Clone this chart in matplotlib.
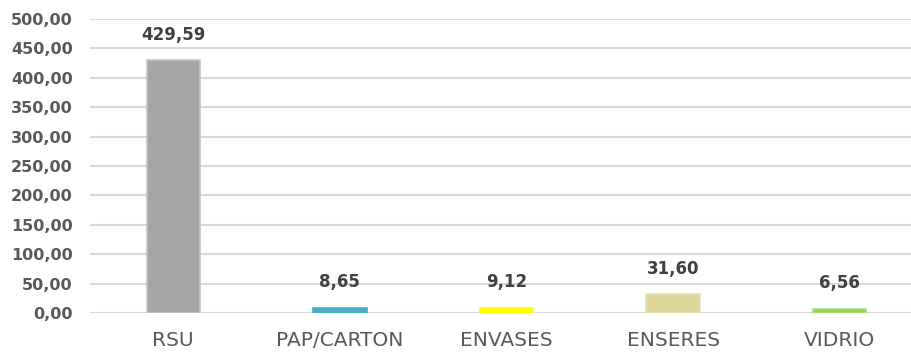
"""
Bar chart of collected waste by type.
"""
from matplotlib import pyplot as plt
import numpy as np

categories = ['RSU', 'PAP/CARTON', 'ENVASES', 'ENSERES', 'VIDRIO']
values = [429.59, 8.65, 9.12, 31.60, 6.56]
colors = ['#A5A5A5', '#4BACC6', '#FFFF00', '#DDD59A', '#92D050']
edges = ['#C4C4C4', '#4BACC6', '#FFFF00', '#E6E0B0', '#A9DA7A']
yticks = [0, 50, 100, 150, 200, 250, 300, 350, 400, 450, 500]

plt.rcParams['font.family'] = ['DejaVu Sans']

fig = plt.figure(figsize=(9.11, 3.54), dpi=100)
ax = fig.add_axes([90 / 911, 41 / 354, 821 / 911, 294 / 354])

x = np.arange(len(categories))
ax.bar(x, values, width=0.32, color=colors, edgecolor=edges, linewidth=1.2, zorder=3)

for xi, v in zip(x, values):
    ax.annotate(f'{v:.2f}'.replace('.', ','), (xi, v), xytext=(0, 12), textcoords='offset points',
                ha='center', va='bottom', fontsize=12, fontweight='bold', color='#404040')

ax.set_xlim(-0.5, 821 / 166.6 - 0.5)
ax.set_ylim(0, 500)
ax.set_yticks(yticks)
ax.set_yticklabels([f'{t:.2f}'.replace('.', ',') for t in yticks],
                   fontsize=11.5, fontweight='bold', color='#595959')
ax.set_xticks(x)
ax.set_xticklabels(categories, fontsize=14.5, color='#595959')
ax.tick_params(axis='y', length=0, pad=12.5)
ax.tick_params(axis='x', length=0, pad=13)

ax.grid(axis='y', color='#D9D9D9', linewidth=1.5, zorder=0)
for s in ax.spines.values():
    s.set_visible(False)

fig.savefig('out.png', dpi=100)
